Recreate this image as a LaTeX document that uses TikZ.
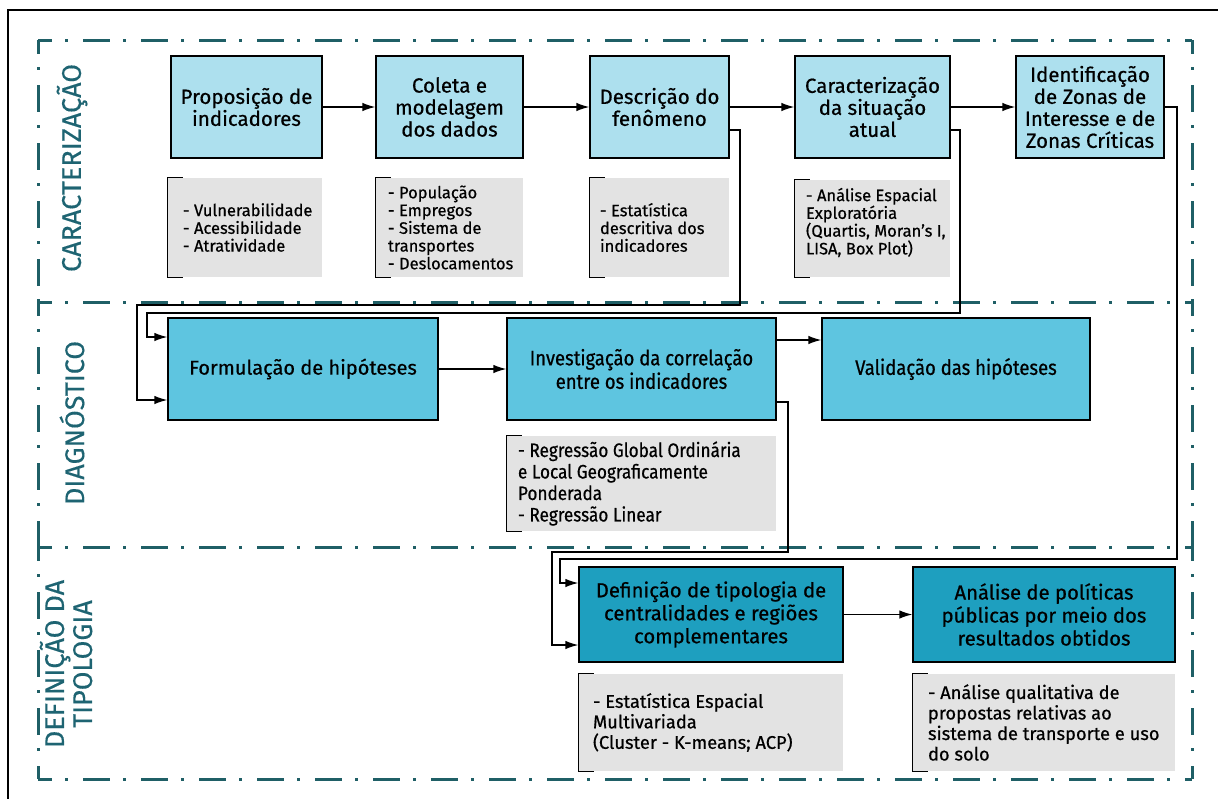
\documentclass[tikz,border=0pt]{standalone}
\usepackage{fontspec}
\setmainfont{Fira Sans}[FakeBold=0.6]
\newfontfamily\condfont{Fira Sans}[FakeStretch=0.88, FakeBold=0.6]
\newfontfamily\labelfont{Fira Sans}[FakeBold=0.3]
\usetikzlibrary{arrows.meta}
\definecolor{framecol}{HTML}{1F5F66}
\definecolor{labelcol}{HTML}{1E6472}
\definecolor{lightstage}{HTML}{ADE0EE}
\definecolor{midstage}{HTML}{5EC5E0}
\definecolor{darkstage}{HTML}{1E9FBF}
\definecolor{notegray}{HTML}{E3E3E3}
\begin{document}
\begin{tikzpicture}[x=1pt, y=-1pt,
  stage/.style={draw=black, line width=1.3pt, align=center, inner sep=0pt,
    font=\fontsize{20.5}{22}\selectfont},
  stagea/.style={stage, fill=lightstage},
  stageb/.style={stage, fill=midstage, font=\fontsize{20}{22}\selectfont},
  stagebc/.style={stageb, font=\condfont\fontsize{21}{23.5}\selectfont},
  stagec/.style={stage, fill=darkstage, font=\fontsize{20.3}{23}\selectfont},
  note/.style={fill=notegray, inner sep=0pt},
  notetext/.style={anchor=west, align=left, inner sep=0pt,
    font=\fontsize{16.5}{17.75}\selectfont},
  arr/.style={-{Latex[length=13pt,width=8.5pt]}, line width=1.3pt},
  frameline/.style={framecol, line width=3pt,
    dash pattern=on 27pt off 13pt on 3pt off 15pt, dash phase=13pt},
  seclabel/.style={text=labelcol, rotate=90, align=center,
    font=\labelfont\fontsize{27}{28}\selectfont},
]
\useasboundingbox (0,0) rectangle (1218,798);
\draw[line width=1.8pt] (8,800) |- (1220,10);

% dash-dot frame of the three phases
\foreach \y in {40,302,547,779}
  \draw[frameline] (38,\y) -- (1192,\y);
\foreach \ya/\yb in {40/302,302/547,547/779} {
  \draw[frameline] (38,\ya) -- (38,\yb);
  \draw[frameline] (1192,\ya) -- (1192,\yb);
}

% phase labels
\node[seclabel] (lcar) at (72,168) {CARACTERIZAÇÃO};
\node[seclabel] (ldiag) at (72,423) {DIAGNÓSTICO};
\node[seclabel] (ltip) at (66,664) {DEFINIÇÃO DA\\TIPOLOGIA};

% caracterizacao
\node[stagea, minimum width=151, minimum height=102] (prop) at (246.5,107) {Proposição de\\indicadores};
\node[stagea, minimum width=147, minimum height=102] (colet) at (449.5,107) {Coleta e\\modelagem\\dos dados};
\node[stagea, minimum width=139, minimum height=102] (descr) at (659.5,107) {Descrição do\\fenômeno};
\node[stagea, minimum width=155, minimum height=102] (carac) at (872.5,107) {Caracterização\\da situação\\atual};
\node[stagea, minimum width=148, minimum height=102] (ident) at (1090,107) {Identificação\\de Zonas de\\Interesse e de\\Zonas Críticas};

\node[note, minimum width=154, minimum height=99] (nprop) at (245,227.5) {};
\node[note, minimum width=147, minimum height=99] (ncolet) at (449.5,227.5) {};
\node[note, minimum width=139, minimum height=99] (ndescr) at (659.5,227.5) {};
\node[note, minimum width=155, minimum height=97] (ncarac) at (872.5,228.5) {};
\node[notetext] at ([xshift=15pt]nprop.west) {- Vulnerabilidade\\- Acessibilidade\\- Atratividade};
\node[notetext] at ([xshift=12pt]ncolet.west) {- População\\- Empregos\\- Sistema de\\transportes\\- Deslocamentos};
\node[notetext] at ([xshift=10pt]ndescr.west) {- Estatística\\descritiva dos\\indicadores};
\node[notetext] at ([xshift=11pt,yshift=6pt]ncarac.west) {- Análise Espacial\\Exploratória\\(Quartis, Moran's I,\\LISA, Box Plot)};

% diagnostico
\node[stageb, minimum width=270, minimum height=102] (form) at (303,369) {Formulação de hipóteses};
\node[stagebc, minimum width=269, minimum height=102] (invest) at (641.5,369) {Investigação da correlação\\entre os indicadores};
\node[stagebc, minimum width=268, minimum height=102] (valid) at (956,369) {Validação das hipóteses};
\node[note, minimum width=269, minimum height=95] (ninvest) at (641.5,483.5) {};
\node[notetext, font=\condfont\fontsize{19.5}{21.5}\selectfont] at ([xshift=11pt]ninvest.west) {- Regressão Global Ordinária\\e Local Geograficamente\\Ponderada\\- Regressão Linear};

% definicao da tipologia
\node[stagec, minimum width=264, minimum height=95] (defin) at (711,614.5) {Definição de tipologia de\\centralidades e regiões\\complementares};
\node[stagec, minimum width=262, minimum height=95] (anal) at (1044,614.5) {Análise de políticas\\públicas por meio dos\\resultados obtidos};
\node[note, minimum width=264, minimum height=97] (ndefin) at (711,722.5) {};
\node[note, minimum width=262, minimum height=97] (nanal) at (1044,722.5) {};
\node[notetext, font=\fontsize{18.3}{20.5}\selectfont] at ([xshift=14pt]ndefin.west) {- Estatística Espacial\\Multivariada\\(Cluster - K-means; ACP)};
\node[notetext, font=\fontsize{18.3}{20.5}\selectfont] at ([xshift=15pt]nanal.west) {- Análise qualitativa de\\propostas relativas ao\\sistema de transporte e uso\\do solo};

% brackets of the notes
\foreach \n in {nprop,ncolet,ndescr,ncarac,ninvest,ndefin,nanal}
  \draw[line width=1.3pt] ([xshift=15pt]\n.north west) -- (\n.north west)
    -- (\n.south west) -- ([xshift=15pt]\n.south west);

% connectors
\draw[arr] (prop) -- (colet);
\draw[arr] (colet) -- (descr);
\draw[arr] (descr) -- (carac);
\draw[arr] (carac) -- (ident);
\draw[arr] ([yshift=-23pt]descr.east) -| (740,305) -| (137,400) -- ([yshift=-31pt]form.west);
\draw[arr] ([yshift=-23pt]carac.east) -| (960,313) -| (147,337) -- ([yshift=32pt]form.west);
\draw[arr] (form) -- (invest);
\draw[arr] ([yshift=29pt]invest.east) -- ([yshift=29pt]valid.west);
\draw[arr] ([yshift=-33pt]invest.east) -| (788,552) -| (552,645) -- ([yshift=-30.5pt]defin.west);
\draw[arr] (ident.east) -| (1177,559) -| (560,583) -- ([yshift=31.5pt]defin.west);
\draw[arr] (defin) -- (anal);
\end{tikzpicture}
\end{document}
